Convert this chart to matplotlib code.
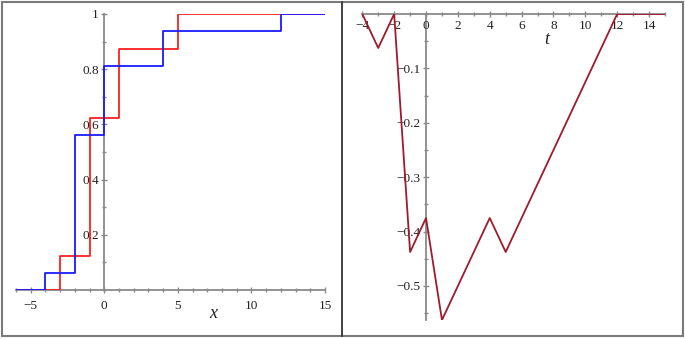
import matplotlib
matplotlib.use("Agg")
import matplotlib.pyplot as plt
from matplotlib.ticker import MultipleLocator, FixedLocator, FixedFormatter
from matplotlib.patches import Rectangle
from matplotlib.lines import Line2D

plt.rcParams['font.family'] = ['Liberation Serif', 'DejaVu Serif']

# Left panel: two step CDFs
blue_x = [-6, -4, -2, 0, 4, 12, 15]
blue_y = [0, 0.0625, 0.5625, 0.8125, 0.9375, 1, 1]
red_x = [-6, -3, -1, 1, 5, 15]
red_y = [0, 0.125, 0.625, 0.875, 1, 1]
left_xticks = [-5, 0, 5, 10, 15]
left_yticks = [0.2, 0.4, 0.6, 0.8, 1]
left_yticklabels = ["0.2", "0.4", "0.6", "0.8", "1"]

# Right panel: piecewise linear difference
t_vals = [-4, -3, -2, -1, 0, 1, 4, 5, 12, 15]
d_vals = [0, -0.0625, 0, -0.4375, -0.375, -0.5625, -0.375, -0.4375, 0, 0]
right_xticks = [-4, -2, 0, 2, 4, 6, 8, 10, 12, 14]
right_yticks = [-0.1, -0.2, -0.3, -0.4, -0.5]

W, H = 685, 339
fig = plt.figure(figsize=(W / 100, H / 100), dpi=100)

axis_col = '#8a8a8a'
fs = 9.5

def style(ax):
    for s in ['top', 'right']:
        ax.spines[s].set_visible(False)
    ax.spines['left'].set_position(('data', 0))
    ax.spines['bottom'].set_position(('data', 0))
    for s in ['left', 'bottom']:
        ax.spines[s].set_color(axis_col)
        ax.spines[s].set_linewidth(1.3)
        ax.spines[s].set_zorder(1)
    ax.tick_params(which='major', direction='inout', length=4, width=1, color=axis_col,
                   labelsize=fs, pad=2, labelcolor='#222222')
    ax.tick_params(which='minor', direction='inout', length=3, width=1, color=axis_col)
    ax.patch.set_alpha(0)

# Left axes
axL = fig.add_axes([16 / W, (H - 290) / H, 309 / W, 276 / H])
axL.step(red_x, red_y, where='post', color='#ff2020', lw=1.3, zorder=3)
axL.step(blue_x, blue_y, where='post', color='#1a1aff', lw=1.3, zorder=4)
axL.set_xlim(-6, 15)
axL.set_ylim(0, 1)
style(axL)
axL.xaxis.set_major_locator(FixedLocator(left_xticks))
axL.xaxis.set_minor_locator(MultipleLocator(1))
axL.yaxis.set_major_locator(FixedLocator(left_yticks))
axL.yaxis.set_major_formatter(FixedFormatter(left_yticklabels))
axL.yaxis.set_minor_locator(MultipleLocator(0.1))
axL.xaxis.set_tick_params(pad=5)
axL.text(7.4, -0.085, 'x', fontsize=13, style='italic', ha='center', va='center',
         color='#222222')

# Right axes
axR = fig.add_axes([362.3 / W, (H - 320) / H, 302.7 / W, 306 / H])
axR.plot(t_vals, d_vals, color='#9e1b2c', lw=1.3, zorder=3)
axR.set_xlim(-4, 15)
axR.set_ylim(-0.5625, 0)
style(axR)
axR.xaxis.set_major_locator(FixedLocator(right_xticks))
axR.xaxis.set_minor_locator(MultipleLocator(1))
axR.yaxis.set_major_locator(FixedLocator(right_yticks))
axR.yaxis.set_minor_locator(MultipleLocator(0.05))
axR.text(7.6, -0.047, 't', fontsize=13, style='italic', ha='center', va='center',
         color='#222222')

# Frame and divider
fig.add_artist(Rectangle((1.5 / W, 3 / H), (682.5 - 1.5) / W, (337.5 - 3) / H,
                         transform=fig.transFigure, fill=False, edgecolor='#7a7a7a', lw=1.5))
fig.add_artist(Line2D([342 / W, 342 / W], [3 / H, 337.5 / H], transform=fig.transFigure,
                      color='#333333', lw=1.3))

fig.savefig('out.png', dpi=100)
